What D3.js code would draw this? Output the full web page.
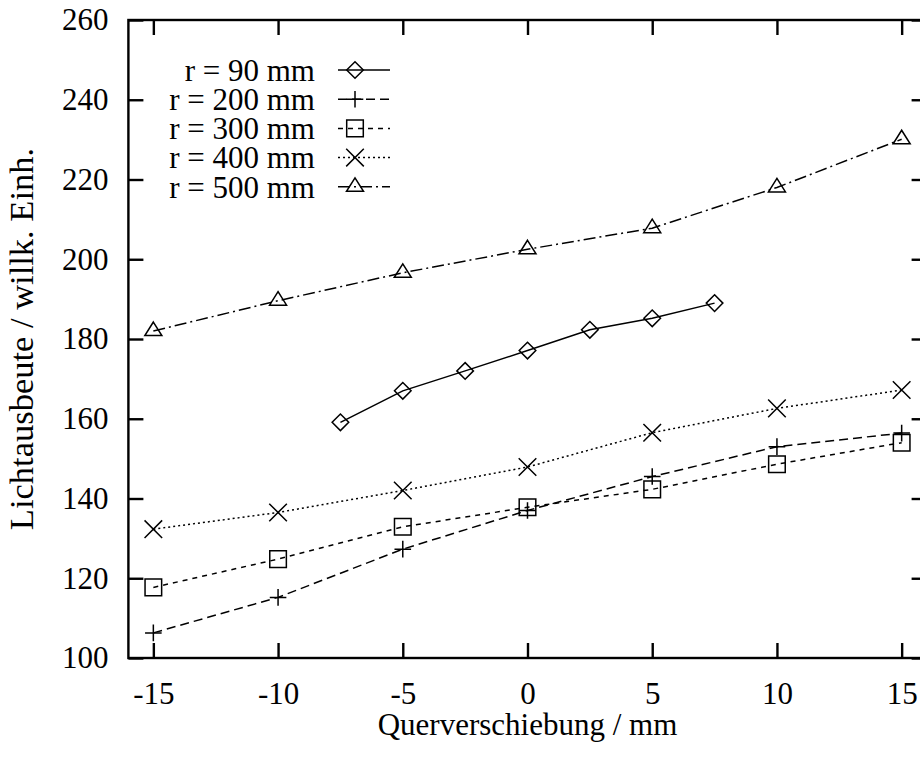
<!DOCTYPE html>
<html>
<head>
<meta charset="utf-8">
<script src="https://cdn.jsdelivr.net/npm/d3@7"></script>
<style>
  html, body { margin: 0; padding: 0; background: #fff; }
  svg { display: block; }
  text { font-family: "Liberation Serif", "Times New Roman", serif; fill: #000; }
</style>
</head>
<body>
<svg id="chart" width="920" height="758"></svg>
<script>
// Measured light yield vs. lateral offset for several radii
const xFull = [-15, -10, -5, 0, 5, 10, 15];
const xHalf = [-7.5, -5, -2.5, 0, 2.5, 5, 7.5];
const r90  = [159.1, 167.0, 172.0, 177.1, 182.3, 185.2, 189.0];
const r200 = [106.3, 115.2, 127.3, 137.0, 145.5, 153.0, 156.4];
const r300 = [117.7, 124.8, 132.9, 137.8, 142.3, 148.6, 154.0];
const r400 = [132.3, 136.5, 142.0, 147.9, 156.5, 162.6, 167.2];
const r500 = [182.0, 189.6, 196.6, 202.5, 207.8, 218.0, 230.1];

const seriesNames = ["r = 90 mm", "r = 200 mm", "r = 300 mm", "r = 400 mm", "r = 500 mm"];
const xTicks = [-15, -10, -5, 0, 5, 10, 15];
const yTicks = [100, 120, 140, 160, 180, 200, 220, 240, 260];
const xLabel = "Querverschiebung / mm";
const yLabel = "Lichtausbeute / willk. Einh.";

const series = [
  { name: seriesNames[0], xs: xHalf, ys: r90,  marker: "diamond",  dash: null },
  { name: seriesNames[1], xs: xFull, ys: r200, marker: "plus",     dash: "9,5" },
  { name: seriesNames[2], xs: xFull, ys: r300, marker: "square",   dash: "5,5" },
  { name: seriesNames[3], xs: xFull, ys: r400, marker: "cross",    dash: "2,3" },
  { name: seriesNames[4], xs: xFull, ys: r500, marker: "triangle", dash: "12,4,2,4" }
];

const svg = d3.select("#chart");
svg.append("rect").attr("width", 920).attr("height", 758).attr("fill", "#fff");

const plotL = 128.4, plotR = 926.6, plotT = 20, plotB = 658;
const x = d3.scaleLinear().domain([-16, 16]).range([plotL, plotR]);
const y = d3.scaleLinear().domain([100, 260]).range([plotB, plotT]);

const FS = 31;
const FS_YLABEL = 34.5;
const tickLen = 15;
const axisW = 2.4;
const plainNum = d => String(d);   // hyphen-minus, as in the printed labels

function styleAxis(g) {
  g.select(".domain").remove();
  g.selectAll(".tick line").attr("stroke", "#000").attr("stroke-width", axisW);
  g.selectAll(".tick text").attr("font-size", FS)
    .attr("font-family", "Liberation Serif, Times New Roman, serif").attr("fill", "#000");
}

// bottom axis with labels, ticks pointing inward
svg.append("g").attr("transform", `translate(0,${plotB})`)
  .call(d3.axisBottom(x).tickValues(xTicks).tickSize(-tickLen).tickPadding(23.5).tickFormat(plainNum))
  .call(styleAxis);
// top axis: ticks only
svg.append("g").attr("transform", `translate(0,${plotT})`)
  .call(d3.axisTop(x).tickValues(xTicks).tickSize(-tickLen).tickFormat(""))
  .call(styleAxis);
// left axis with labels
svg.append("g").attr("transform", `translate(${plotL},0)`)
  .call(d3.axisLeft(y).tickValues(yTicks).tickSize(-tickLen).tickPadding(20).tickFormat(plainNum))
  .call(styleAxis);
// right axis: ticks only
svg.append("g").attr("transform", `translate(${plotR},0)`)
  .call(d3.axisRight(y).tickValues(yTicks).tickSize(-tickLen).tickFormat(""))
  .call(styleAxis);

// frame
svg.append("rect")
  .attr("x", plotL).attr("y", plotT)
  .attr("width", plotR - plotL).attr("height", plotB - plotT)
  .attr("fill", "none").attr("stroke", "#000").attr("stroke-width", axisW);

// axis titles
svg.append("text")
  .attr("x", (plotL + plotR) / 2).attr("y", 735)
  .attr("text-anchor", "middle").attr("font-size", FS)
  .text(xLabel);
svg.append("text")
  .attr("transform", `translate(33,${(plotT + plotB) / 2}) rotate(-90)`)
  .attr("text-anchor", "middle").attr("font-size", FS_YLABEL)
  .text(yLabel);

// marker shapes, centred on the data point
function markerPath(type, cx, cy) {
  const s = 8.3;
  const p = d3.path();
  switch (type) {
    case "diamond":
      p.moveTo(cx, cy - s); p.lineTo(cx + s, cy); p.lineTo(cx, cy + s); p.lineTo(cx - s, cy); p.closePath();
      break;
    case "plus":
      p.moveTo(cx - s, cy); p.lineTo(cx + s, cy); p.moveTo(cx, cy - s); p.lineTo(cx, cy + s);
      break;
    case "square":
      p.rect(cx - s, cy - s, 2 * s, 2 * s);
      break;
    case "cross":
      p.moveTo(cx - s - 0.5, cy - s - 0.5); p.lineTo(cx + s + 0.5, cy + s + 0.5);
      p.moveTo(cx - s - 0.5, cy + s + 0.5); p.lineTo(cx + s + 0.5, cy - s - 0.5);
      break;
    case "triangle":
      p.moveTo(cx, cy - 9); p.lineTo(cx + s + 0.2, cy + 4.5); p.lineTo(cx - s - 0.2, cy + 4.5); p.closePath();
      break;
  }
  return p.toString();
}

const line = d3.line().x(d => x(d[0])).y(d => y(d[1]));
const lw = 1.5;

series.forEach(s => {
  const pts = s.xs.map((v, i) => [v, s.ys[i]]);
  svg.append("path")
    .datum(pts)
    .attr("d", line)
    .attr("fill", "none").attr("stroke", "#000").attr("stroke-width", lw)
    .attr("stroke-dasharray", s.dash);
  svg.append("g").selectAll("path")
    .data(pts).join("path")
    .attr("d", d => markerPath(s.marker, x(d[0]), y(d[1])))
    .attr("fill", "none").attr("stroke", "#000").attr("stroke-width", lw);
});

// legend
const legTextX = 315, legLineX0 = 338, legLineX1 = 390, legMarkX = 355;
const legY0 = 70, legStep = 29.2;
series.forEach((s, i) => {
  const ly = legY0 + i * legStep;
  svg.append("text")
    .attr("x", legTextX).attr("y", ly).attr("dy", "0.35em")
    .attr("text-anchor", "end").attr("font-size", FS)
    .text(s.name);
  svg.append("line")
    .attr("x1", legLineX0).attr("x2", legLineX1).attr("y1", ly).attr("y2", ly)
    .attr("stroke", "#000").attr("stroke-width", lw)
    .attr("stroke-dasharray", s.dash);
  svg.append("path")
    .attr("d", markerPath(s.marker, legMarkX, ly))
    .attr("fill", "none").attr("stroke", "#000").attr("stroke-width", lw);
});
</script>
</body>
</html>
